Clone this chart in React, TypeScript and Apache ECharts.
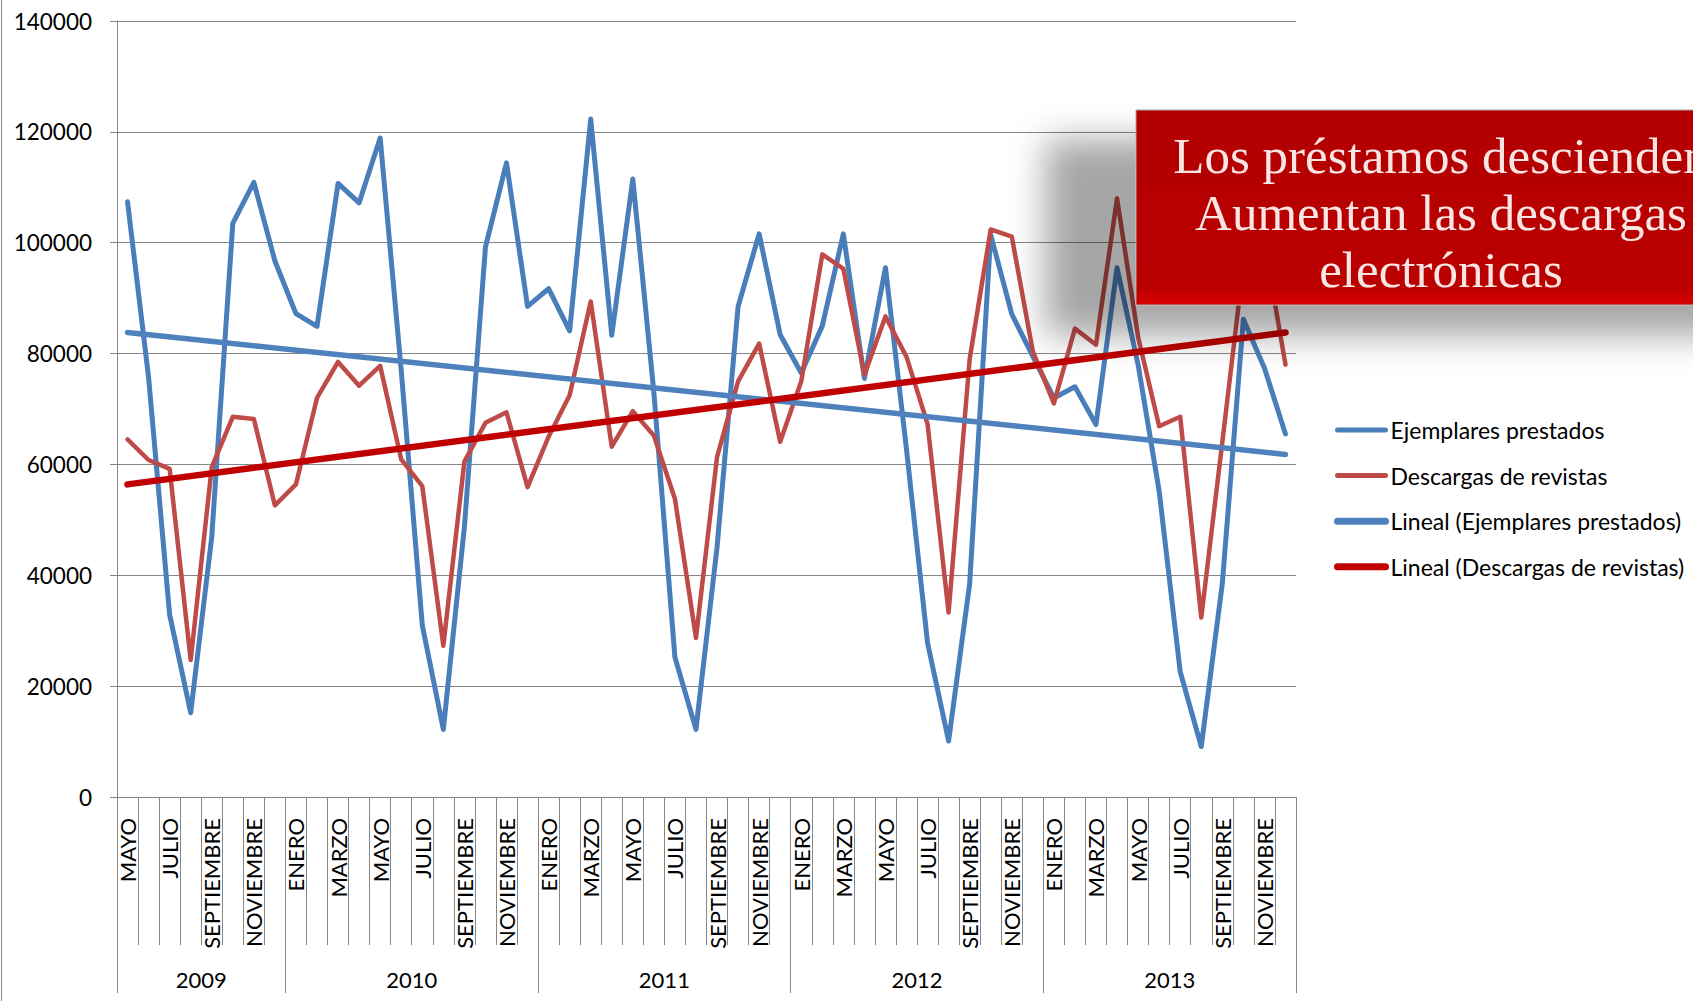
import React, { useEffect, useRef } from 'react';
import * as echarts from 'echarts';

// ---- data ----
const years = ['2009', '2010', '2011', '2012', '2013'];
const firstMonthOfYear = [4, 0, 0, 0, 0]; // 2009 starts in MAYO
const monthNames = ['ENERO', 'FEBRERO', 'MARZO', 'ABRIL', 'MAYO', 'JUNIO', 'JULIO', 'AGOSTO', 'SEPTIEMBRE', 'OCTUBRE', 'NOVIEMBRE', 'DICIEMBRE'];

const ejemplaresPrestados = [
  107400, 75700, 32900, 15200, 46900, 103500, 110900, 96700,
  87200, 84900, 110700, 107200, 118900, 77000, 31000, 12200, 48700, 99200, 114400, 88500,
  91700, 84100, 122300, 83300, 111500, 73000, 25200, 12200, 45000, 88500, 101600, 83400,
  76500, 85000, 101600, 75500, 95500, 62700, 27800, 10100, 38500, 101400, 87100, 79500,
  72000, 74000, 67200, 95500, 78000, 55200, 22600, 9100, 38500, 86200, 77400, 65500,
];
const descargasRevistas = [
  64500, 60800, 59200, 24700, 59500, 68600, 68200, 52600,
  56400, 72000, 78500, 74200, 77800, 60900, 56100, 27300, 60500, 67500, 69400, 55900,
  65000, 72500, 89400, 63200, 69600, 65200, 53800, 28700, 61300, 75000, 81800, 64100,
  75000, 97900, 95300, 76200, 86700, 79400, 67300, 33300, 79000, 102400, 101100, 80400,
  71000, 84500, 81600, 108000, 83000, 66900, 68600, 32400, 64000, 96000, 100000, 78000,
];
// linear trend lines: value at first and last month
const trendEjemplares = [83800, 61800];
const trendDescargas = [56400, 83800];

const seriesNames = ['Ejemplares prestados', 'Descargas de revistas', 'Lineal (Ejemplares prestados)', 'Lineal (Descargas de revistas)'];
const yMin = 0;
const yMax = 140000;
const yStep = 20000;
const boxLines = ['Los préstamos descienden', 'Aumentan las descargas', 'electrónicas'];

// ---- derived categories ----
const monthCats: string[] = [];
const yearCats: string[] = [];
const yearStarts: number[] = [];
const yearLabelIdx: number[] = [];
years.forEach((y, yi) => {
  const start = monthCats.length;
  yearStarts.push(start);
  for (let m = firstMonthOfYear[yi]; m < 12; m++) {
    monthCats.push(monthNames[m] + '|' + y);
    yearCats.push(y + '|' + m);
  }
  const count = monthCats.length - start;
  yearLabelIdx.push(start + Math.floor(count / 2) - 1);
});

function trendData(ends: number[]) {
  const arr: (number | null)[] = monthCats.map(() => null);
  arr[0] = ends[0];
  arr[arr.length - 1] = ends[1];
  return arr;
}

const FONT = 'Lato';
const GRAY = '#868686';

export default function App() {
  const ref = useRef<HTMLDivElement>(null);
  useEffect(() => {
    const chart = echarts.init(ref.current!, null, { renderer: 'svg' });
    const option: any = {
      animation: false,
      backgroundColor: '#ffffff',
      grid: { left: 117, right: 397, top: 21, bottom: 204, containLabel: false, outerBoundsMode: 'none' },
      legend: {
        orient: 'vertical',
        left: 1329,
        top: 413,
        itemWidth: 48,
        itemHeight: 4,
        itemGap: 21.6,
        selectedMode: false,
        textStyle: { fontFamily: FONT, fontSize: 23, color: '#000', lineHeight: 24 },
        lineStyle: { cap: 'round' },
        data: [
          { name: seriesNames[0], lineStyle: { width: 5, cap: 'round' } },
          { name: seriesNames[1], lineStyle: { width: 5, cap: 'round' } },
          { name: seriesNames[2], lineStyle: { width: 7, cap: 'round' } },
          { name: seriesNames[3], lineStyle: { width: 7, cap: 'round' } },
        ],
      },
      xAxis: [
        {
          type: 'category',
          position: 'bottom',
          data: monthCats,
          boundaryGap: true,
          axisLine: { show: true, lineStyle: { color: GRAY, width: 1 } },
          axisTick: { show: true, interval: 0, length: 148, alignWithLabel: false, lineStyle: { color: GRAY, width: 1 } },
          axisLabel: {
            interval: 1,
            rotate: 90,
            margin: 21,
            fontFamily: FONT,
            fontSize: 22,
            color: '#000',
            formatter: (v: string) => v.split('|')[0],
          },
          splitLine: { show: false },
        },
        {
          type: 'category',
          position: 'bottom',
          data: yearCats,
          boundaryGap: true,
          axisLine: { show: false },
          axisTick: {
            show: true,
            interval: (i: number) => yearStarts.includes(i),
            length: 196,
            alignWithLabel: false,
            lineStyle: { color: GRAY, width: 1 },
          },
          axisLabel: {
            interval: (i: number) => yearLabelIdx.includes(i),
            margin: 171,
            formatter: (v: string) => '{y|' + v.split('|')[0] + '}',
            rich: { y: { fontFamily: FONT, fontSize: 22, color: '#000', lineHeight: 22, padding: [0, 0, 0, 21] } },
          },
          splitLine: { show: false },
        },
      ],
      yAxis: {
        type: 'value',
        min: yMin,
        max: yMax,
        interval: yStep,
        axisLine: { show: true, lineStyle: { color: GRAY, width: 1 } },
        axisTick: { show: true, length: 7, lineStyle: { color: GRAY, width: 1 } },
        axisLabel: { margin: 25, fontFamily: FONT, fontSize: 22.5, color: '#000', formatter: (v: number) => String(v) },
        splitLine: { show: true, lineStyle: { color: GRAY, width: 1 } },
      },
      series: [
        {
          name: seriesNames[0], type: 'line', data: ejemplaresPrestados, symbol: 'none', silent: true,
          itemStyle: { color: '#4A7EBB' },
          lineStyle: { color: '#4A7EBB', width: 5, cap: 'round', join: 'round' },
        },
        {
          name: seriesNames[1], type: 'line', data: descargasRevistas, symbol: 'none', silent: true,
          itemStyle: { color: '#BE4B48' },
          lineStyle: { color: '#BE4B48', width: 4.5, cap: 'round', join: 'round' },
        },
        {
          name: seriesNames[2], type: 'line', data: trendData(trendEjemplares), connectNulls: true, symbol: 'none', silent: true,
          itemStyle: { color: '#4F81BD' },
          lineStyle: { color: '#4F81BD', width: 5.5, cap: 'round' },
        },
        {
          name: seriesNames[3], type: 'line', data: trendData(trendDescargas), connectNulls: true, symbol: 'none', silent: true,
          itemStyle: { color: '#C00000' },
          lineStyle: { color: '#C00000', width: 6.5, cap: 'round' },
        },
      ],
      graphic: [
        { type: 'line', shape: { x1: 1.5, y1: 0, x2: 1.5, y2: 1001 }, style: { stroke: '#8c8c8c', lineWidth: 1 } },
        {
          type: 'rect', z: 100,
          shape: { x: 1136, y: 110, width: 700, height: 195 },
          style: {
            fill: new echarts.graphic.LinearGradient(0, 0, 0, 1, [
              { offset: 0, color: '#B20000' },
              { offset: 0.9, color: '#BB0000' },
              { offset: 1, color: '#D80000' },
            ]),
            stroke: '#a8a8a8', lineWidth: 1,
            shadowBlur: 35, shadowOffsetX: -90, shadowOffsetY: 30, shadowColor: 'rgba(0,0,0,0.35)',
          },
        },
        {
          type: 'text', z: 101, x: 1441, y: 213,
          style: {
            text: boxLines.join('\n'),
            fontFamily: 'Liberation Serif', fontSize: 51, lineHeight: 57,
            fill: '#F9E6E4', align: 'center', verticalAlign: 'middle',
          },
        },
      ],
    };
    chart.setOption(option);
    return () => chart.dispose();
  }, []);
  return <div ref={ref} style={{ position: 'fixed', left: 0, top: 0, width: 1693, height: 1001, background: '#fff' }} />;
}
